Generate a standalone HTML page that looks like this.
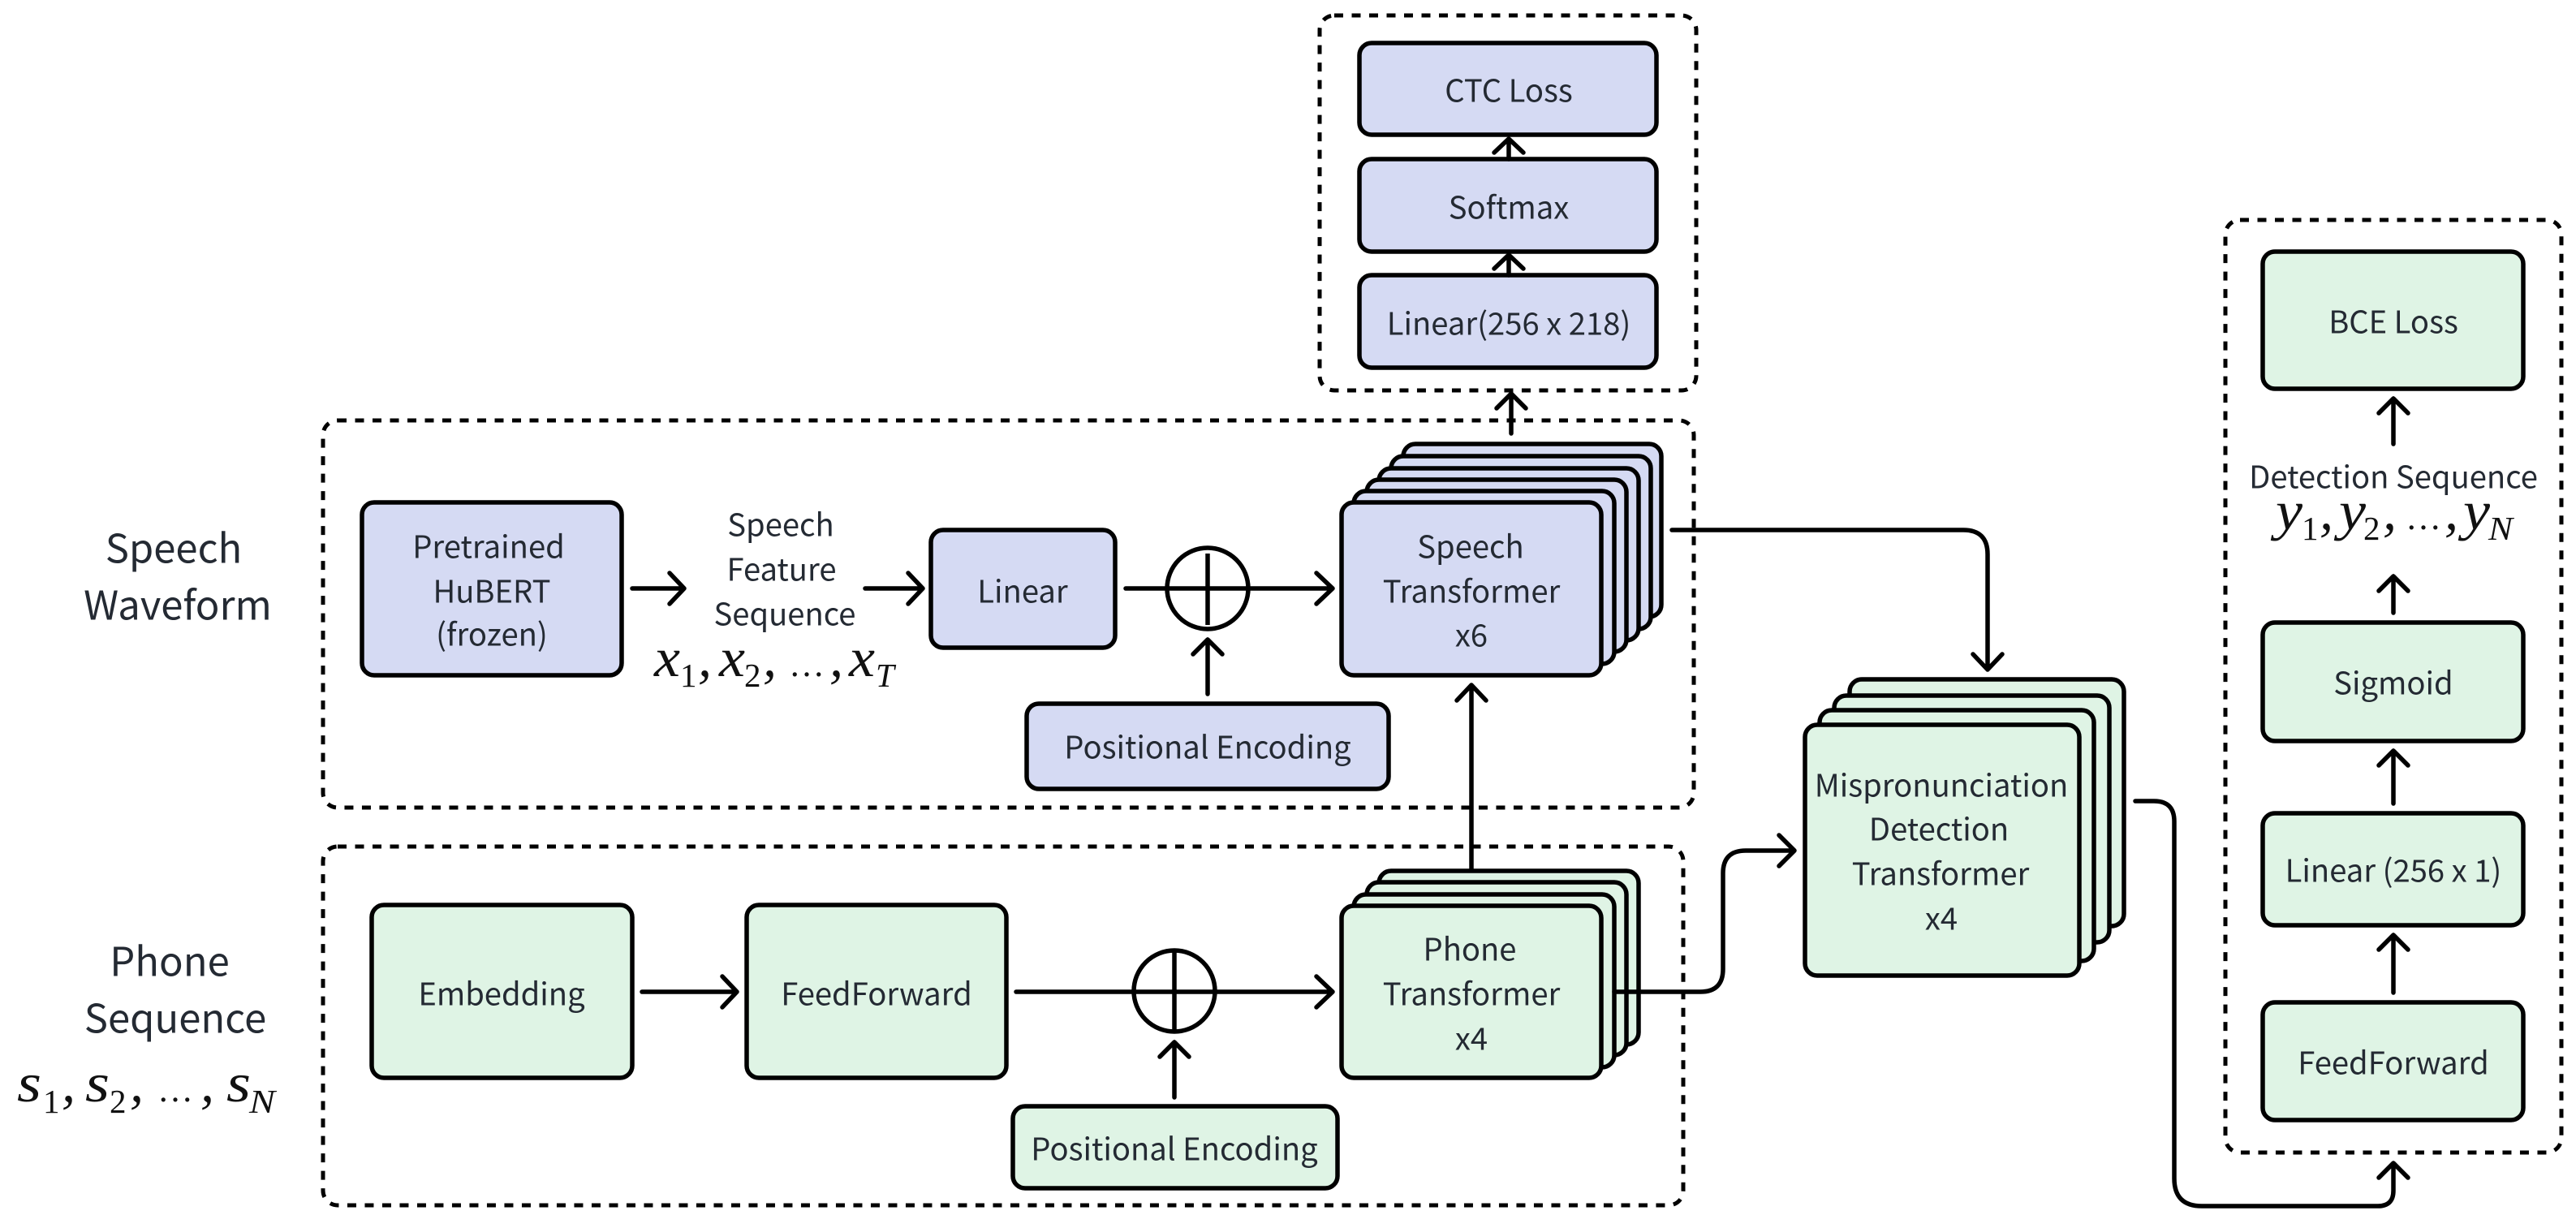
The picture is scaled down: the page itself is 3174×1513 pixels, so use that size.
<!DOCTYPE html>
<html><head><meta charset="utf-8"><style>
html,body{margin:0;padding:0;background:#fff}
svg{display:block}
.t{font-family:"Noto Sans CJK SC","Liberation Sans",sans-serif;font-size:38.2px;fill:#242a33;text-anchor:middle}
.L{font-size:49px}
.m{font-family:"Liberation Serif",serif;font-size:68px;fill:#111;font-style:italic}
.s{font-family:"Liberation Serif",serif;font-size:41px;fill:#111}
.si{font-style:italic}
.g{fill:none;stroke:#000;stroke-width:5;stroke-dasharray:11 10.5}
.b{fill:#d5daf3;stroke:#000;stroke-width:5.5}
.n{fill:#dff4e5;stroke:#000;stroke-width:5.5}
.a{fill:none;stroke:#000;stroke-width:5.5;stroke-linecap:round;stroke-linejoin:round}
</style></head><body>
<svg width="3174" height="1513" viewBox="0 0 3174 1513" xmlns="http://www.w3.org/2000/svg">
<rect width="3174" height="1513" fill="#fff"/>
<!-- dashed groups -->
<rect class="g" x="1626" y="19" width="464" height="462" rx="18"/>
<rect class="g" x="398" y="518" width="1689" height="477" rx="18"/>
<rect class="g" x="398" y="1043" width="1676" height="442" rx="18"/>
<rect class="g" x="2742" y="271" width="414" height="1149" rx="18"/>
<!-- CTC column -->
<rect class="b" x="1675" y="53" width="366" height="113" rx="15"/>
<rect class="b" x="1675" y="196" width="366" height="114" rx="15"/>
<rect class="b" x="1675" y="339" width="366" height="114" rx="15"/>
<path class="a" d="M1859 196V171M1841 188L1859 171L1877 188"/>
<path class="a" d="M1859 339V314M1841 331L1859 314L1877 331"/>
<path class="a" d="M1862 534V485M1844 503L1862 485L1880 503"/>
<!-- speech row -->
<rect class="b" x="446" y="619" width="320" height="213" rx="15"/>
<rect class="b" x="1147" y="653" width="227" height="145" rx="15"/>
<rect class="b" x="1265" y="867" width="446" height="105" rx="15"/>
<rect class="b" x="1729" y="547" width="318" height="213" rx="15"/>
<rect class="b" x="1714" y="562" width="320" height="213" rx="15"/>
<rect class="b" x="1699" y="577" width="320" height="212" rx="15"/>
<rect class="b" x="1684" y="591" width="320" height="212" rx="15"/>
<rect class="b" x="1668" y="605" width="321" height="213" rx="15"/>
<rect class="b" x="1653" y="619" width="320" height="213" rx="15"/>
<path class="a" d="M779 725H843M825 706L843 725L825 744"/>
<path class="a" d="M1066 725H1137M1119 706L1137 725L1119 744"/>
<circle cx="1488" cy="725" r="50" fill="none" stroke="#000" stroke-width="5.5"/>
<path class="a" d="M1387 725H1642M1622 706L1642 725L1622 744"/>
<path class="a" d="M1488 682V770" style="stroke-linecap:butt"/>
<path class="a" d="M1488 855V788M1470 806L1488 788L1506 806"/>
<path class="a" d="M1813 1075V844M1795 863L1813 844L1831 863"/>
<path class="a" d="M2060 653H2419Q2449 653 2449 683V825M2431 806L2449 825L2467 806"/>
<!-- phone row -->
<rect class="n" x="458" y="1115" width="321" height="213" rx="15"/>
<rect class="n" x="920" y="1115" width="320" height="213" rx="15"/>
<rect class="n" x="1248" y="1363" width="400" height="101" rx="15"/>
<rect class="n" x="1699" y="1073" width="320" height="214" rx="15"/>
<rect class="n" x="1684" y="1087" width="320" height="213" rx="15"/>
<rect class="n" x="1668" y="1102" width="321" height="213" rx="15"/>
<rect class="n" x="1653" y="1116" width="320" height="212" rx="15"/>
<path class="a" d="M791 1222H908M890 1203L908 1222L890 1241"/>
<circle cx="1447" cy="1221" r="50" fill="none" stroke="#000" stroke-width="5.5"/>
<path class="a" d="M1252 1222H1642M1622 1203L1642 1222L1622 1241"/>
<path class="a" d="M1447 1171V1271" style="stroke-linecap:butt"/>
<path class="a" d="M1447 1352V1284M1429 1302L1447 1284L1465 1302"/>
<path class="a" d="M1989 1222H2095Q2123 1222 2123 1194V1076Q2123 1048 2151 1048H2211M2192 1029L2211 1048L2192 1067"/>
<!-- mispronunciation stack -->
<rect class="n" x="2279" y="837" width="338" height="304" rx="15"/>
<rect class="n" x="2260" y="857" width="339" height="304" rx="15"/>
<rect class="n" x="2242" y="875" width="338" height="309" rx="15"/>
<rect class="n" x="2224" y="893" width="338" height="309" rx="15"/>
<path class="a" d="M2631 987H2654Q2679 987 2679 1012V1452Q2679 1486 2713 1486H2930Q2949 1486 2949 1467V1433M2931 1451L2949 1433L2967 1451"/>
<!-- BCE column -->
<rect class="n" x="2788" y="310" width="321" height="169" rx="15"/>
<rect class="n" x="2788" y="767" width="321" height="146" rx="15"/>
<rect class="n" x="2788" y="1002" width="321" height="138" rx="15"/>
<rect class="n" x="2788" y="1235" width="321" height="145" rx="15"/>
<path class="a" d="M2949 547V491M2931 509L2949 491L2967 509"/>
<path class="a" d="M2949 755V710M2931 728L2949 710L2967 728"/>
<path class="a" d="M2949 990V925M2931 943L2949 925L2967 943"/>
<path class="a" d="M2949 1223V1152M2931 1170L2949 1152L2967 1170"/>
<!-- labels -->
<g transform="translate(0,0.3)">
<text class="t L" x="214" y="693">Speech</text>
<text class="t L" x="219" y="763">Waveform</text>
<text class="t L" x="209" y="1202">Phone</text>
<text class="t L" x="216" y="1272">Sequence</text>
<text class="t" x="602" y="687">Pretrained</text>
<text class="t" x="606" y="742">HuBERT</text>
<text class="t" x="606" y="795">(frozen)</text>
<text class="t" x="962" y="660">Speech</text>
<text class="t" x="963" y="715">Feature</text>
<text class="t" x="967" y="770">Sequence</text>
<text class="t" x="1260" y="742">Linear</text>
<text class="t" x="1488" y="934">Positional Encoding</text>
<text class="t" x="1812" y="687">Speech</text>
<text class="t" x="1813" y="742">Transformer</text>
<text class="t" x="1813" y="796">x6</text>
<text class="t" x="1811" y="1183">Phone</text>
<text class="t" x="1813" y="1238">Transformer</text>
<text class="t" x="1813" y="1293">x4</text>
<text class="t" x="618" y="1238">Embedding</text>
<text class="t" x="1080" y="1238">FeedForward</text>
<text class="t" x="1447" y="1429">Positional Encoding</text>
<text class="t" x="1859" y="125">CTC Loss</text>
<text class="t" x="1859" y="269">Softmax</text>
<text class="t" x="1859" y="412">Linear(256 x 218)</text>
<text class="t" x="2949" y="410">BCE Loss</text>
<text class="t" x="2949" y="601">Detection Sequence</text>
<text class="t" x="2949" y="855">Sigmoid</text>
<text class="t" x="2949" y="1086">Linear (256 x 1)</text>
<text class="t" x="2949" y="1323">FeedForward</text>
<text class="t" x="2392" y="981">Mispronunciation</text>
<text class="t" x="2389" y="1035">Detection</text>
<text class="t" x="2391" y="1090">Transformer</text>
<text class="t" x="2392" y="1145">x4</text>
</g>
<!-- math x -->
<text class="m" x="806" y="833" textLength="32" lengthAdjust="spacingAndGlyphs">x</text>
<text class="s" x="838" y="846">1</text>
<text class="m" x="860" y="833">,</text>
<text class="m" x="886" y="833" textLength="32" lengthAdjust="spacingAndGlyphs">x</text>
<text class="s" x="917" y="846">2</text>
<text class="m" x="940" y="833">,</text>
<text class="m" x="972" y="833" style="font-style:normal;font-size:44px">…</text>
<text class="m" x="1022" y="833">,</text>
<text class="m" x="1046" y="833" textLength="32" lengthAdjust="spacingAndGlyphs">x</text>
<text class="s si" x="1079" y="846">T</text>
<!-- math s -->
<text class="m" x="21" y="1357" textLength="30" lengthAdjust="spacingAndGlyphs">s</text>
<text class="s" x="53" y="1371">1</text>
<text class="m" x="76" y="1357">,</text>
<text class="m" x="105" y="1357" textLength="30" lengthAdjust="spacingAndGlyphs">s</text>
<text class="s" x="135" y="1371">2</text>
<text class="m" x="160" y="1357">,</text>
<text class="m" x="194" y="1357" style="font-style:normal;font-size:44px">…</text>
<text class="m" x="247" y="1357">,</text>
<text class="m" x="279" y="1357" textLength="30" lengthAdjust="spacingAndGlyphs">s</text>
<text class="s si" x="307" y="1371" textLength="32" lengthAdjust="spacingAndGlyphs">N</text>
<!-- math y -->
<text class="m" x="2804" y="652" textLength="33" lengthAdjust="spacingAndGlyphs">y</text>
<text class="s" x="2836" y="665">1</text>
<text class="m" x="2858" y="652">,</text>
<text class="m" x="2882" y="652" textLength="33" lengthAdjust="spacingAndGlyphs">y</text>
<text class="s" x="2912" y="665">2</text>
<text class="m" x="2936" y="652">,</text>
<text class="m" x="2964" y="652" style="font-style:normal;font-size:44px">…</text>
<text class="m" x="3012" y="652">,</text>
<text class="m" x="3035" y="652" textLength="33" lengthAdjust="spacingAndGlyphs">y</text>
<text class="s si" x="3066" y="665" textLength="30" lengthAdjust="spacingAndGlyphs">N</text>
</svg>
</body></html>
